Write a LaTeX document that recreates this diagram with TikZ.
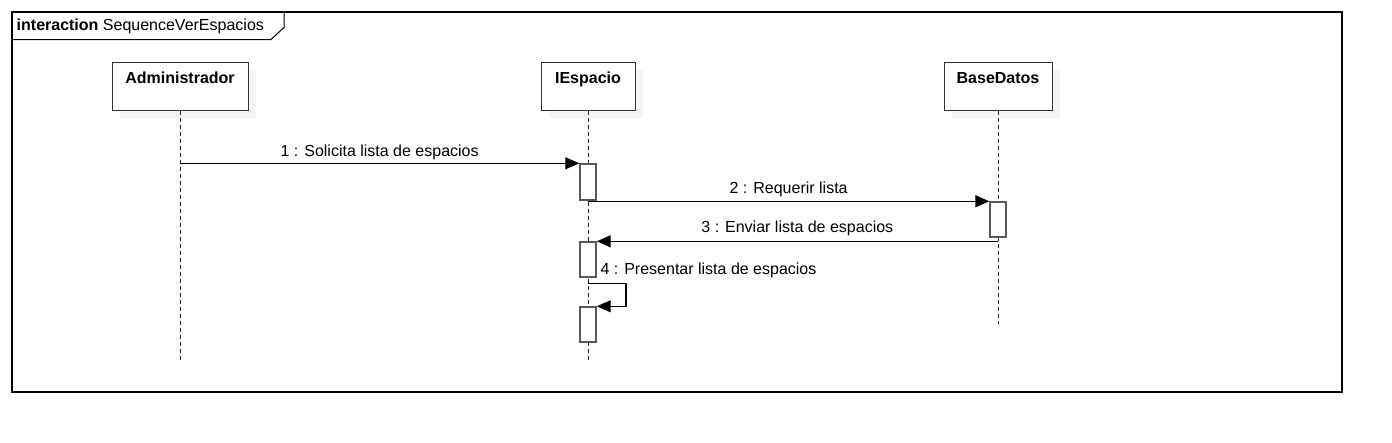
\documentclass[tikz,border=0pt]{standalone}
\usepackage{fontspec}
\setmainfont{Liberation Sans}
\usepackage{tikz}
\usetikzlibrary{shapes, arrows.meta, positioning, shadows}
\tikzstyle{lifebox} = [draw=black!80, fill=white, rectangle, line width=1pt, minimum height=48pt, drop shadow={shadow xshift=8pt, shadow yshift=-8pt, fill=black!4, opacity=1}]
\tikzstyle{boxname} = [font=\fontsize{16}{19}\selectfont\bfseries, inner sep=0pt]
\tikzstyle{activation} = [draw=black!65, fill=white, rectangle, line width=1.4pt, minimum width=16pt, inner sep=0pt]
\tikzstyle{lifeline} = [draw=black!85, line width=1pt, dash pattern=on 4pt off 3pt]
\tikzstyle{message} = [-{Triangle[length=14pt, width=12pt]}, line width=1.2pt]
\tikzstyle{msglabel} = [font=\fontsize{16}{19}\selectfont, inner sep=0pt]

\begin{document}
\begin{tikzpicture}[x=1pt, y=-1pt]
	\useasboundingbox (0,0) rectangle (1392,442);
	% frame
	\draw[line width=1.3pt] (12,12) rectangle (1342,392);
	\draw[line width=1pt] (12,39.5) -- (271,39.5) -- (284,27.5) -- (284,12);
	\node[msglabel, anchor=base west] (title) at (16.5,30.5) {\textbf{interaction} SequenceVerEspacios};
	
	% lifelines
	\node [lifebox, minimum width=136pt, label={[boxname, anchor=base, yshift=-21.5pt]north:Administrador}] (admin) at (180,86) {};
	\node [lifebox, minimum width=94pt, label={[boxname, anchor=base, yshift=-21.5pt]north:IEspacio}] (iespacio) at (588,86) {};
	\node [lifebox, minimum width=108pt, label={[boxname, anchor=base, yshift=-21.5pt]north:BaseDatos}] (basedatos) at (998,86) {};
	\coordinate (adminend) at (180,362);
	\coordinate (iespacioend) at (588,362);
	\coordinate (basedatosend) at (998,324);
	\draw[lifeline] (admin.south) -- (adminend);
	\draw[lifeline] (iespacio.south) -- (iespacioend);
	\draw[lifeline] (basedatos.south) -- (basedatosend);
	
	% activations
	\node [activation, minimum height=36pt] (act1) at (588,182) {};
	\node [activation, minimum height=35pt] (actdb) at (998,219.5) {};
	\node [activation, minimum height=35pt] (act2) at (588,259.5) {};
	\node [activation, minimum height=35pt] (act3) at (588,324.5) {};
	
	% messages
	\draw[message] (admin |- act1.north) -- node[msglabel, midway, anchor=base, yshift=7pt]{1 : Solicita lista de espacios} (act1.north west);
	\draw[message] (act1.south |- actdb.north) -- node[msglabel, midway, anchor=base, yshift=8pt]{2 : Requerir lista} (actdb.north west);
	\draw[message] (basedatos |- act2.north) -- node[msglabel, midway, anchor=base, yshift=9pt]{3 : Enviar lista de espacios} (act2.north east);
	\draw[message] ([yshift=-6pt]act2.south) node[msglabel, anchor=base west, xshift=12pt, yshift=9pt]{4 : Presentar lista de espacios} -- ++(38,0) |- (act3.north east);
\end{tikzpicture}
\end{document}
